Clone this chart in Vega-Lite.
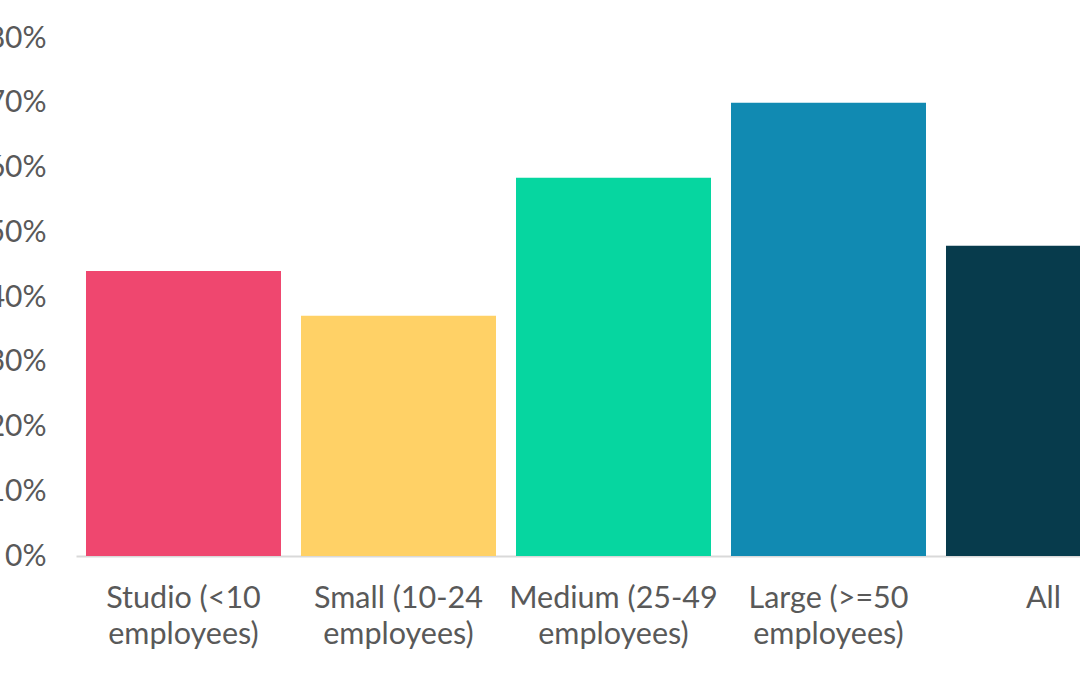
{
  "$schema": "https://vega.github.io/schema/vega-lite/v6.json",
  "autosize": {"type": "none"},
  "padding": {"left": 76, "top": 38, "right": 0, "bottom": 119},
  "width": 1004,
  "height": 518,
  "background": "#ffffff",
  "config": {"view": {"stroke": null}, "font": "Lato"},
  "data": {"values": [
    {"size": "Studio (<10\nemployees)", "share": 0.44, "color": "#EF476F"},
    {"size": "Small (10-24\nemployees)", "share": 0.371, "color": "#FFD166"},
    {"size": "Medium (25-49\nemployees)", "share": 0.584, "color": "#06D6A0"},
    {"size": "Large (>=50\nemployees)", "share": 0.70, "color": "#118AB2"},
    {"size": "All", "share": 0.479, "color": "#073B4C"}
  ]},
  "mark": {"type": "bar"},
  "encoding": {
    "x": {
      "field": "size", "type": "nominal", "sort": null, "title": null,
      "scale": {"range": [0, 1075], "paddingInner": 0.093, "paddingOuter": 0.0465},
      "axis": {
        "labelAngle": 0, "labelExpr": "split(datum.label, '\\n')",
        "labelFont": "Lato", "labelFontSize": 30.5, "labelColor": "#595959",
        "labelLineHeight": 36, "labelPadding": 27, "labelBaseline": "top",
        "labelLimit": 0, "labelOverlap": false,
        "ticks": false, "tickSize": 0, "domainColor": "#d9d9d9", "domainWidth": 2,
        "grid": false
      }
    },
    "y": {
      "field": "share", "type": "quantitative", "title": null,
      "scale": {"domain": [0, 0.8], "nice": false},
      "axis": {
        "values": [0, 0.1, 0.2, 0.3, 0.4, 0.5, 0.6, 0.7, 0.8],
        "format": ".0%", "labelFont": "Lato", "labelFontSize": 30, "labelColor": "#595959",
        "labelPadding": 30, "ticks": false, "tickSize": 0, "domain": false, "grid": false
      }
    },
    "color": {"field": "color", "type": "nominal", "scale": null, "legend": null}
  }
}
